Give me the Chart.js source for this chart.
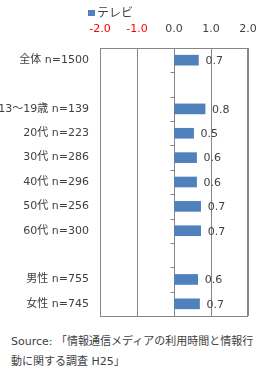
<!DOCTYPE html>
<html>
<head>
<meta charset="utf-8">
<script src="https://cdn.jsdelivr.net/npm/chart.js@4.4.1/dist/chart.umd.min.js"></script>
<style>
  body { margin: 0; background: #fff; width: 265px; height: 379px; overflow: hidden; position: relative;
         font-family: "DejaVu Sans", "Noto Sans CJK JP", sans-serif; color: #404040; }
  #chart { position: absolute; left: 0; top: 0; }
  #legend { position: absolute; left: 88px; top: 5px; font-size: 12px; line-height: 16px; }
  #legend i { display: inline-block; width: 7px; height: 6px; margin-right: 2px; vertical-align: 1px; }
  #source { position: absolute; left: 11px; top: 332px; font-size: 11px; line-height: 20px; color: #404040; }
</style>
</head>
<body>
<canvas id="chart" width="265" height="322"></canvas>
<div id="legend"></div>
<div id="source"></div>
<script>
// categories (blank entries are the gaps between groups)
var categories = ['全体 n=1500', '', '13～19歳 n=139', '20代 n=223', '30代 n=286', '40代 n=296',
                  '50代 n=256', '60代 n=300', '', '男性 n=755', '女性 n=745'];
var seriesName = 'テレビ';
var tvValues = [0.66, null, 0.84, 0.53, 0.61, 0.61, 0.72, 0.72, null, 0.64, 0.69];
var xTicks = [-2, -1, 0, 1, 2];
var sourceLines = ['Source: 「情報通信メディアの利用時間と情報行', '動に関する調査  H25」'];

var barColor = '#4F81BD';
var gridColor = '#868686';
var textColor = '#404040';
var fontFam = '"DejaVu Sans", "Noto Sans CJK JP", sans-serif';

document.getElementById('legend').innerHTML = '<i style="background:' + barColor + '"></i>' + seriesName;
document.getElementById('source').innerHTML = sourceLines.join('<br>');

// value labels next to each bar
var valueLabels = {
  id: 'valueLabels',
  afterDatasetsDraw: function(chart) {
    var ctx = chart.ctx;
    var meta = chart.getDatasetMeta(0);
    ctx.save();
    ctx.font = '11px ' + fontFam;
    ctx.fillStyle = textColor;
    ctx.textBaseline = 'middle';
    meta.data.forEach(function(bar, i) {
      var v = tvValues[i];
      if (v == null) return;
      ctx.fillText(v.toFixed(1), bar.x + 7, bar.y + 1);
    });
    ctx.restore();
  }
};

// plot frame and little category ticks on the zero line
var frame = {
  id: 'frame',
  afterDraw: function(chart) {
    var ctx = chart.ctx, a = chart.chartArea;
    var x = chart.scales.x, y = chart.scales.y;
    ctx.save();
    ctx.strokeStyle = gridColor;
    ctx.lineWidth = 1;
    ctx.strokeRect(Math.round(a.left) + 0.5, Math.round(a.top) + 0.5,
                   Math.round(a.right - a.left) - 1, Math.round(a.bottom - a.top));
    var x0 = Math.round(x.getPixelForValue(0)) + 0.5;
    ctx.beginPath();
    for (var i = 1; i < categories.length; i++) {
      var yy = Math.round((y.getPixelForValue(i - 1) + y.getPixelForValue(i)) / 2) + 0.5;
      ctx.moveTo(x0 - 4, yy);
      ctx.lineTo(x0, yy);
    }
    ctx.stroke();
    ctx.restore();
  }
};

new Chart(document.getElementById('chart'), {
  type: 'bar',
  data: {
    labels: categories,
    datasets: [{
      label: seriesName,
      data: tvValues,
      backgroundColor: barColor,
      barThickness: 10
    }]
  },
  options: {
    indexAxis: 'y',
    responsive: false,
    animation: false,
    layout: { padding: { top: 0, right: 17, bottom: 6, left: 0 } },
    plugins: {
      legend: { display: false },
      tooltip: { enabled: false }
    },
    scales: {
      x: {
        position: 'top',
        min: -2, max: 2,
        afterBuildTicks: function(s) { s.ticks = xTicks.map(function(v) { return { value: v }; }); },
        afterFit: function(s) { s.height = 48; s.paddingLeft = 0; s.paddingRight = 0; },
        grid: { color: gridColor, drawTicks: false },
        border: { display: false },
        ticks: {
          padding: 12,
          font: { family: fontFam, size: 11 },
          color: function(c) { return c.tick.value < 0 ? '#FF0000' : textColor; },
          callback: function(v) { return v.toFixed(1); }
        }
      },
      y: {
        afterFit: function(s) { s.width = 100; s.paddingTop = 0; s.paddingBottom = 0; },
        grid: { display: false, drawTicks: false },
        border: { display: false },
        ticks: {
          padding: 11,
          autoSkip: false,
          font: { family: fontFam, size: 11 },
          color: textColor
        }
      }
    }
  },
  plugins: [valueLabels, frame]
});
</script>
</body>
</html>
